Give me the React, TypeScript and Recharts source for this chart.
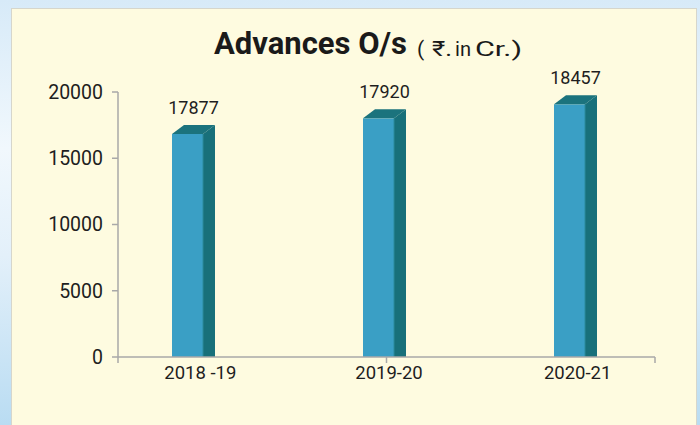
import React from 'react';
import { BarChart, Bar, XAxis, YAxis, LabelList } from 'recharts';

const categories = ['2018 -19', '2019-20', '2020-21'];
const labelValues = [17877, 17920, 18457];
// bar heights as actually drawn in the reference picture
const barHeights = [16830, 18010, 19070];
const yTicks = [0, 5000, 10000, 15000, 20000];
const boundaryTicks = [0, 1, 2, 3];

const data = categories.map((c, i) => ({ cat: c, bar: barHeights[i], label: labelValues[i] }));

const DX = 12;
const DY = 9;
const FRONT = '#3a9fc5';
const SIDE = '#18707a';
const TOP = '#1b737d';
const AXIS = '#a9a9a9';
const TEXT = '#1e1e1e';
const FONT = "Roboto, 'Noto Sans', 'DejaVu Sans', sans-serif";

function Bar3D(props: any) {
  const { x, y, width, height } = props;
  if (width == null || height == null) return null;
  const fw = width - DX;
  const bottom = y + height;
  return (
    <g>
      <rect x={x} y={y} width={fw} height={height} fill={FRONT} />
      <polygon
        points={`${x + fw},${y} ${x + width},${y - DY} ${x + width},${bottom} ${x + fw},${bottom}`}
        fill={SIDE}
      />
      <polygon
        points={`${x},${y} ${x + DX},${y - DY} ${x + width},${y - DY} ${x + fw},${y}`}
        fill={TOP}
      />
      <line x1={x + fw} y1={y} x2={x + fw} y2={bottom} stroke="#2b8a9c" strokeWidth={1} />
    </g>
  );
}

function ValueLabel(props: any) {
  const { x, y, width, value } = props;
  return (
    <text x={x + width / 2} y={y - DY - 11} textAnchor="middle" fontSize={18} fill={TEXT} fontFamily={FONT}>
      {value}
    </text>
  );
}

const EmptyTick = () => <g />;

export default function App() {
  return (
    <div
      style={{
        position: 'fixed',
        left: 0,
        top: 0,
        width: 700,
        height: 425,
        overflow: 'hidden',
        fontFamily: FONT,
        background: 'linear-gradient(180deg, #d7eaf8 0%, #f1f8fd 35%, #e3f0fa 60%, #b9dcf2 100%)',
      }}
    >
      <div
        style={{
          position: 'absolute',
          left: 11,
          top: 8,
          width: 686,
          height: 430,
          background: '#fefbe0',
          boxSizing: 'border-box',
          border: '1px solid #d6d6cc',
        }}
      />
      <div style={{ position: 'absolute', left: 0, top: 0 }}>
        <BarChart width={700} height={425} data={data} margin={{ top: 92, right: 45, bottom: 37, left: 0 }}>
          <YAxis
            type="number"
            domain={[0, 20000]}
            ticks={yTicks}
            interval={0}
            width={118}
            tickSize={6}
            tickMargin={9}
            axisLine={{ stroke: AXIS, strokeWidth: 1.5 }}
            tickLine={{ stroke: AXIS, strokeWidth: 1.5 }}
            tick={{ fill: TEXT, fontSize: 19.5 }}
          />
          <XAxis
            xAxisId="frame"
            type="number"
            domain={[0, 3]}
            ticks={boundaryTicks}
            allowDataOverflow
            height={1}
            tickSize={6}
            axisLine={{ stroke: AXIS, strokeWidth: 1.5 }}
            tickLine={{ stroke: AXIS, strokeWidth: 1.5 }}
            tick={EmptyTick}
          />
          <XAxis
            xAxisId="labels"
            dataKey="cat"
            type="category"
            interval={0}
            height={30}
            padding={{ left: -12, right: -17 }}
            axisLine={false}
            tickLine={false}
            tickSize={6}
            tickMargin={2}
            tick={{ fill: TEXT, fontSize: 18.5 }}
          />
          <XAxis
            xAxisId="bars"
            dataKey="cat"
            type="category"
            hide
            orientation="top"
            height={0}
            padding={{ left: -20, right: -16 }}
          />
          <Bar xAxisId="bars" dataKey="bar" barSize={43} shape={Bar3D} isAnimationActive={false}>
            <LabelList dataKey="label" content={ValueLabel} />
          </Bar>
        </BarChart>
      </div>
      <svg width={700} height={80} style={{ position: 'absolute', left: 0, top: 0 }}>
        <text x={214} y={54} fontFamily={FONT} fill="#1a1a1a" fontSize={31} fontWeight={700}>
          Advances O/s
        </text>
        <g fontFamily={FONT} fill="#1a1a1a" fontSize={21}>
          <text x={417} y={56}>(</text>
          <text x={432} y={56} textLength={20} lengthAdjust="spacingAndGlyphs">₹.</text>
          <text x={455} y={56} textLength={16} lengthAdjust="spacingAndGlyphs">in</text>
          <text x={475} y={56} textLength={47} lengthAdjust="spacingAndGlyphs">Cr.)</text>
        </g>
      </svg>
    </div>
  );
}
